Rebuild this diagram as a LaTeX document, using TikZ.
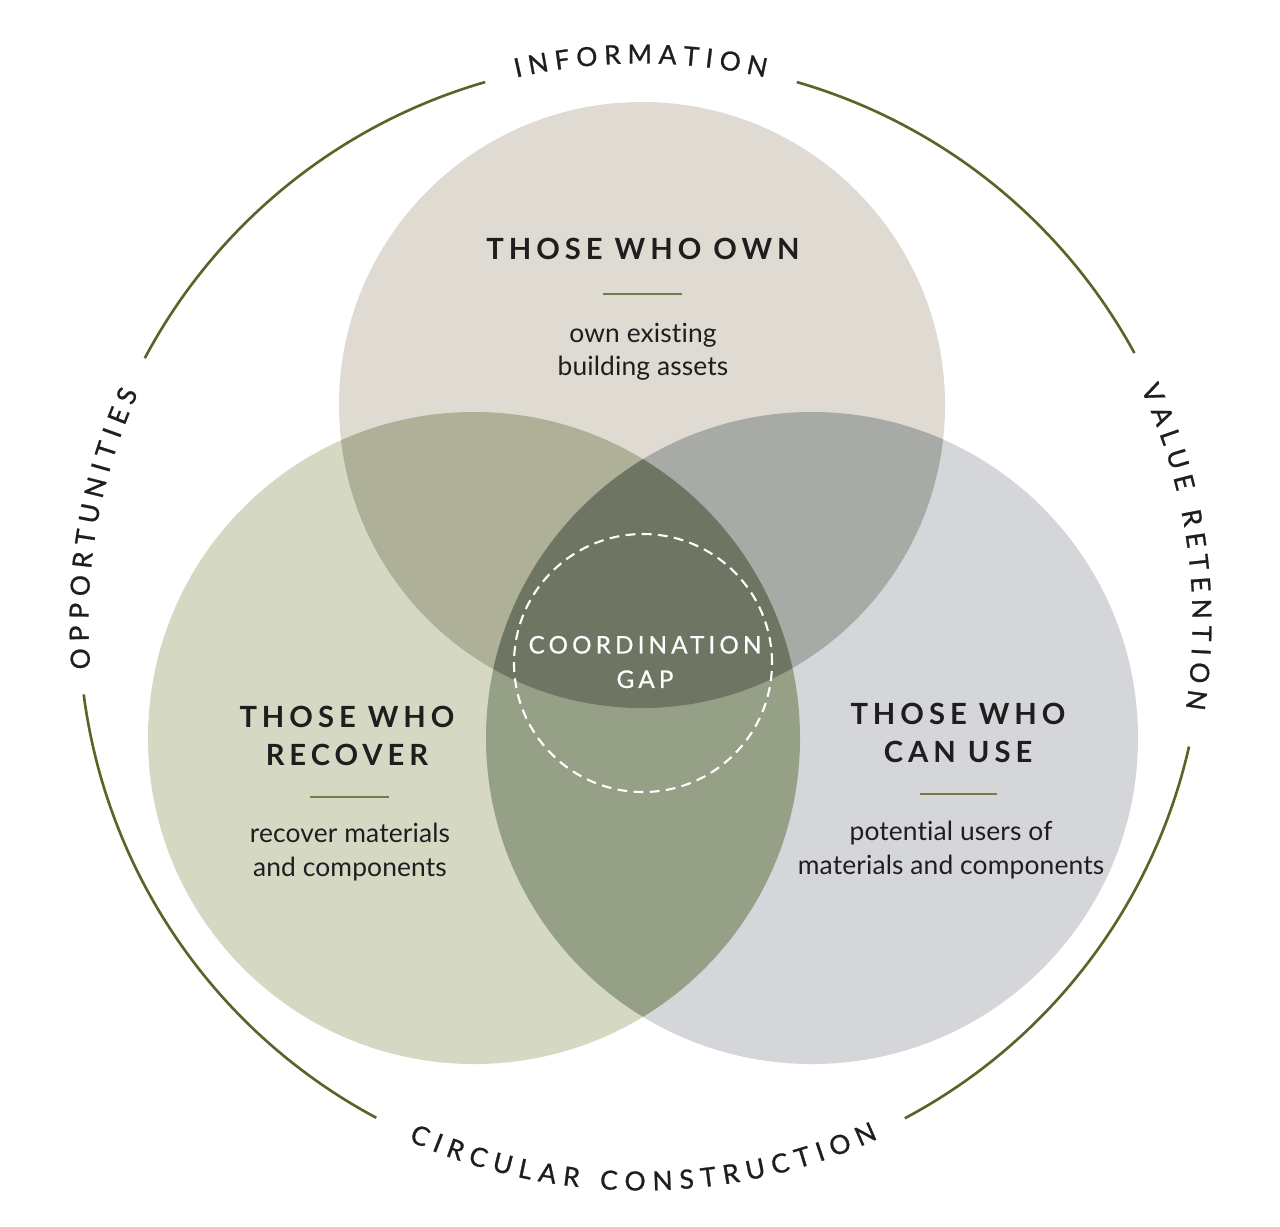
\documentclass[tikz,border=0pt]{standalone}
\usepackage{fontspec}
\setmainfont{Lato}
\newfontfamily\trackfont[LetterSpace=17]{Lato}
\newfontfamily\gapfont[LetterSpace=17,FakeBold=0.6]{Lato}
\newfontfamily\bodyfont[LetterSpace=0.5,Ligatures=NoCommon]{Lato}
\newfontfamily\ringfont[FakeBold=0.9]{Lato}
\usetikzlibrary{calc}
\definecolor{cTop}{HTML}{DFDBD2}
\definecolor{cLeft}{HTML}{D5D9C3}
\definecolor{cRight}{HTML}{D4D6D9}
\definecolor{cTL}{HTML}{AEB098}
\definecolor{cTR}{HTML}{A8AAA5}
\definecolor{cLR}{HTML}{95A087}
\definecolor{cTLR}{HTML}{6E7562}
\definecolor{olive}{HTML}{5B6427}
\definecolor{ink}{HTML}{1E1E1E}
\newcommand\rfont{\ringfont\fontsize{7.5}{9}\selectfont}
\def\rtrack{1.95}
\newlength\rlw
% measure letters (outside the picture): #1 prefix, #2 letters
\newcommand\ringprep[2]{%
  \gdef\rs{0}\gdef\rpw{-1}%
  \foreach \ch in {#2} {%
    \settowidth\rlw{\rfont\ch}%
    \pgfmathsetmacro\w{\the\rlw}%
    \ifdim\rpw pt<0pt \else\pgfmathsetmacro\ns{\rs+\rpw/2+\rtrack+\w/2}\xdef\rs{\ns}\fi
    \xdef\rpw{\w}%
  }%
  \xdef\rL{\rs}%
  \gdef\rs{0}\gdef\rpw{-1}%
  \foreach \ch [count=\i] in {#2} {%
    \settowidth\rlw{\rfont\ch}%
    \pgfmathsetmacro\w{\the\rlw}%
    \ifdim\rpw pt<0pt \else\pgfmathsetmacro\ns{\rs+\rpw/2+\rtrack+\w/2}\xdef\rs{\ns}\fi
    \xdef\rpw{\w}%
    \pgfmathsetmacro\off{\rs-\rL/2}%
    \expandafter\xdef\csname rw#1\i\endcsname{\off}%
  }%
}
% place letters: #1 prefix, #2 centre angle, #3 radius, #4 direction, #5 rotation offset, #6 letters
\newcommand\ringplace[6]{%
  \foreach \ch [count=\i] in {#6} {%
    \edef\off{\csname rw#1\i\endcsname}%
    \pgfmathsetmacro\ang{#2+(#4)*(\off)*3.5146/(#3)*57.29578}%
    \node[ringletter, rotate={\ang+(#5)}] (#1\i) at ([shift={(\ang:#3)}]O) {\ch};
  }%
}
\tikzset{
  ringline/.style={draw=olive, line width=0.75pt},
  ringletter/.style={inner sep=0pt, text=ink, font=\rfont},
  title/.style={align=center, text=ink, inner sep=0pt, font=\trackfont\bfseries\fontsize{8.3}{10.8}\selectfont},
  body/.style={align=center, text=ink, inner sep=0pt, font=\bodyfont\fontsize{7.5}{9.4}\selectfont},
  rule/.style={draw=olive!85!white, line width=0.6pt},
  gaptext/.style={align=center, text=white, inner sep=0pt, font=\gapfont\fontsize{6.9}{9.8}\selectfont}
}
\begin{document}
\ringprep{inf}{I,N,F,O,R,M,A,T,I,O,N}%
\ringprep{opp}{O,P,P,O,R,T,U,N,I,T,I,E,S}%
\ringprep{val}{V,A,L,U,E,{\ },R,E,T,E,N,T,I,O,N}%
\ringprep{cir}{C,I,R,C,U,L,A,R,{\ },C,O,N,S,T,R,U,C,T,I,O,N}%
\begin{tikzpicture}[x=0.01cm,y=0.01cm]
\useasboundingbox (0,0) rectangle (1280,-1226);
\fill[white] (0,0) rectangle (1280,-1226);
\coordinate (O) at (641,-622);
\coordinate (cT) at (642,-405);
\coordinate (cL) at (474,-738);
\coordinate (cR) at (812,-738);
\coordinate (cG) at (643,-663);
% circles
\fill[cTop] (cT) circle[radius=303];
\fill[cLeft] (cL) circle[radius=326];
\fill[cRight] (cR) circle[radius=326];
\begin{scope}
  \clip (cT) circle[radius=303];
  \fill[cTL] (cL) circle[radius=326];
  \fill[cTR] (cR) circle[radius=326];
\end{scope}
\begin{scope}
  \clip (cL) circle[radius=326];
  \fill[cLR] (cR) circle[radius=326];
\end{scope}
\begin{scope}
  \clip (cT) circle[radius=303];
  \clip (cL) circle[radius=326];
  \fill[cTLR] (cR) circle[radius=326];
\end{scope}
\draw[white, line width=0.6pt, dash pattern=on 2.8pt off 1.8pt] (cG) circle[radius=129];
% outer ring arcs
\draw[ringline] ([shift={(106.1:562)}]O) arc[start angle=106.1, end angle=152, radius=562];
\draw[ringline] ([shift={(187.4:562)}]O) arc[start angle=187.4, end angle=241.9, radius=562];
\draw[ringline] ([shift={(298:562)}]O) arc[start angle=298, end angle=347.2, radius=562];
\draw[ringline] ([shift={(28.6:562)}]O) arc[start angle=28.6, end angle=73.9, radius=562];
% ring texts
\ringplace{inf}{90.35}{568}{-1}{-90}{I,N,F,O,R,M,A,T,I,O,N}
\ringplace{opp}{170}{562}{-1}{-90}{O,P,P,O,R,T,U,N,I,T,I,E,S}
\ringplace{val}{8.05}{561}{-1}{-90}{V,A,L,U,E,{\ },R,E,T,E,N,T,I,O,N}
\ringplace{cir}{270.2}{559}{1}{90}{C,I,R,C,U,L,A,R,{\ },C,O,N,S,T,R,U,C,T,I,O,N}
% top circle text
\node[title] (ownT) at (643,-249) {THOSE WHO OWN};
\coordinate (ownA) at (603,-294); \coordinate (ownB) at (682,-294);
\draw[rule] (ownA) -- (ownB);
\node[body] (ownB1) at (643,-352) {own existing\\building assets};
% left circle text
\node[title] (recT) at (347,-736) {THOSE WHO\\RECOVER};
\coordinate (recA) at (310,-797); \coordinate (recB) at (389,-797);
\draw[rule] (recA) -- (recB);
\node[body] (recB1) at (350,-852) {recover materials\\and components};
% right circle text
\node[title] (useT) at (958,-733) {THOSE WHO\\CAN USE};
\coordinate (useA) at (920,-794); \coordinate (useB) at (997,-794);
\draw[rule] (useA) -- (useB);
\node[body] (useB1) at (951,-850) {potential users of\\materials and components};
% center
\node[gaptext] (gap) at (645,-662) {COORDINATION\\GAP};
\end{tikzpicture}
\end{document}
